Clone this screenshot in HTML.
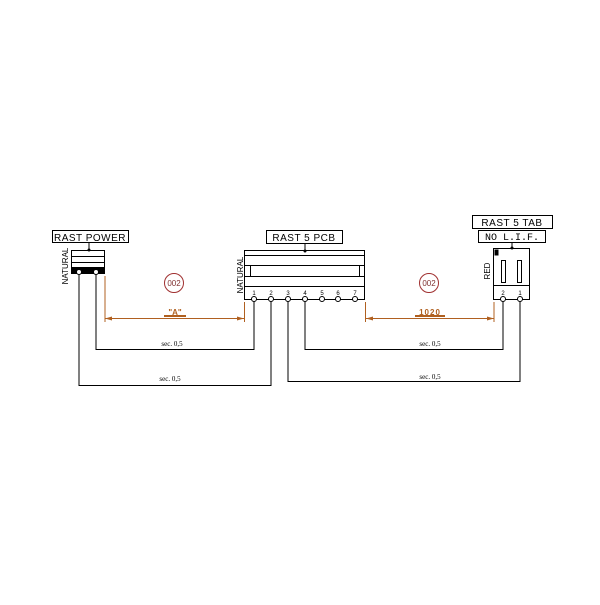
<!DOCTYPE html>
<html><head><meta charset="utf-8"><style>html,body{margin:0;padding:0;background:#fff}</style></head>
<body>
<svg width="600" height="600" viewBox="0 0 600 600" xmlns="http://www.w3.org/2000/svg" font-family="Liberation Sans, sans-serif">
<rect width="600" height="600" fill="#fff"/>
<g stroke="#000" stroke-width="1" fill="none">
<rect x="52.5" y="230.5" width="76" height="12"/>
<line x1="89" y1="242" x2="89" y2="250"/>
<rect x="71.5" y="250.5" width="33" height="23"/>
<line x1="71" y1="256.5" x2="105" y2="256.5"/>
<line x1="71" y1="262.5" x2="105" y2="262.5"/>
<rect x="71.5" y="267.5" width="33" height="6" fill="#000"/>
<polyline points="96,273 96,349.5 254,349.5 254,300"/>
<polyline points="79,273 79,385.5 271,385.5 271,300"/>
<polyline points="305,300 305,349.5 503,349.5 503,300"/>
<polyline points="288,300 288,381.5 520,381.5 520,300"/>
<rect x="266.5" y="230.5" width="76" height="13"/>
<line x1="305" y1="243" x2="305" y2="251"/>
<rect x="244.5" y="250.5" width="120" height="49"/>
<line x1="244" y1="255.5" x2="365" y2="255.5"/>
<line x1="244" y1="265.5" x2="365" y2="265.5"/>
<line x1="244" y1="276.5" x2="365" y2="276.5"/>
<line x1="244" y1="286.5" x2="365" y2="286.5"/>
<line x1="250.5" y1="265" x2="250.5" y2="276"/>
<line x1="359.5" y1="265" x2="359.5" y2="276"/>
<rect x="472.5" y="215.5" width="80" height="13"/>
<rect x="478.5" y="230.5" width="67" height="12"/>
<line x1="512" y1="242" x2="512" y2="249"/>
<rect x="493.5" y="248.5" width="36" height="51"/>
<line x1="493" y1="285.5" x2="530" y2="285.5"/>
<rect x="501.5" y="260.5" width="4" height="22"/>
<rect x="517.5" y="260.5" width="4" height="22"/>
<rect x="495" y="250" width="3" height="5" fill="#000"/>
</g>
<g fill="#fff" stroke="#000">
<circle cx="79" cy="272" r="2.5"/><circle cx="96" cy="272" r="2.5"/>
<circle cx="254" cy="299" r="2.5"/><circle cx="271" cy="299" r="2.5"/><circle cx="288" cy="299" r="2.5"/>
<circle cx="305" cy="299" r="2.5"/><circle cx="322" cy="299" r="2.5"/><circle cx="338" cy="299" r="2.5"/><circle cx="355" cy="299" r="2.5"/>
<circle cx="503" cy="299" r="2.5"/><circle cx="520" cy="299" r="2.5"/>
</g>
<g fill="#000"><circle cx="89" cy="250" r="1.5"/><circle cx="305" cy="251" r="1.5"/><circle cx="512" cy="248" r="1.5"/></g>
<g stroke="#b06020" stroke-width="1" fill="none">
<line x1="105" y1="318.5" x2="244" y2="318.5"/>
<line x1="105" y1="276" x2="105" y2="322"/>
<line x1="244.5" y1="302" x2="244.5" y2="322"/>
<line x1="366" y1="318.5" x2="494" y2="318.5"/>
<line x1="365.5" y1="302" x2="365.5" y2="322"/>
<line x1="494" y1="302" x2="494" y2="322"/>
<line x1="164" y1="316" x2="186" y2="316" stroke-width="2"/>
<line x1="415" y1="316" x2="445" y2="316" stroke-width="2"/>
</g>
<g fill="#b06020"><polygon points="105,318.5 112,316.5 112,320.5"/><polygon points="244,318.5 237,316.5 237,320.5"/>
<polygon points="366,318.5 373,316.5 373,320.5"/><polygon points="494,318.5 487,316.5 487,320.5"/></g>
<g fill="#b06020" font-size="8" font-weight="bold" text-anchor="middle">
<text x="175" y="315">"A"</text><text x="430" y="315" letter-spacing="1">1020</text></g>
<g fill="none" stroke="#a03030"><circle cx="174" cy="283" r="9.5"/><circle cx="429" cy="283" r="9.5"/></g>
<g fill="#803030" font-size="8" text-anchor="middle"><text x="174" y="286">002</text><text x="429" y="286">002</text></g>
<g font-size="10" fill="#000" text-anchor="middle" letter-spacing="0.5">
<text x="90" y="241">RAST  POWER</text>
<text x="304" y="241">RAST  5  PCB</text>
<text x="512" y="226">RAST  5  TAB</text>
<text x="512" y="240" font-family="Liberation Mono, monospace" letter-spacing="0">NO L.I.F.</text>
</g>
<g font-size="8" fill="#000" text-anchor="middle">
<text transform="translate(68,266) rotate(-90)">NATURAL</text>
<text transform="translate(243,275) rotate(-90)">NATURAL</text>
<text transform="translate(490,271) rotate(-90)">RED</text>
</g>
<g font-size="6" fill="#000" text-anchor="middle">
<text x="254" y="295">1</text><text x="271" y="295">2</text><text x="288" y="295">3</text><text x="305" y="295">4</text>
<text x="322" y="295">5</text><text x="338" y="295">6</text><text x="355" y="295">7</text>
<text x="503" y="295">2</text><text x="520" y="295">1</text>
</g>
<g font-size="7" fill="#000" text-anchor="middle" font-family="Liberation Serif, serif">
<text x="172" y="346">sec. 0,5</text><text x="170" y="381">sec. 0,5</text>
<text x="430" y="346">sec. 0,5</text><text x="430" y="379">sec. 0,5</text>
</g>
</svg>
</body></html>
